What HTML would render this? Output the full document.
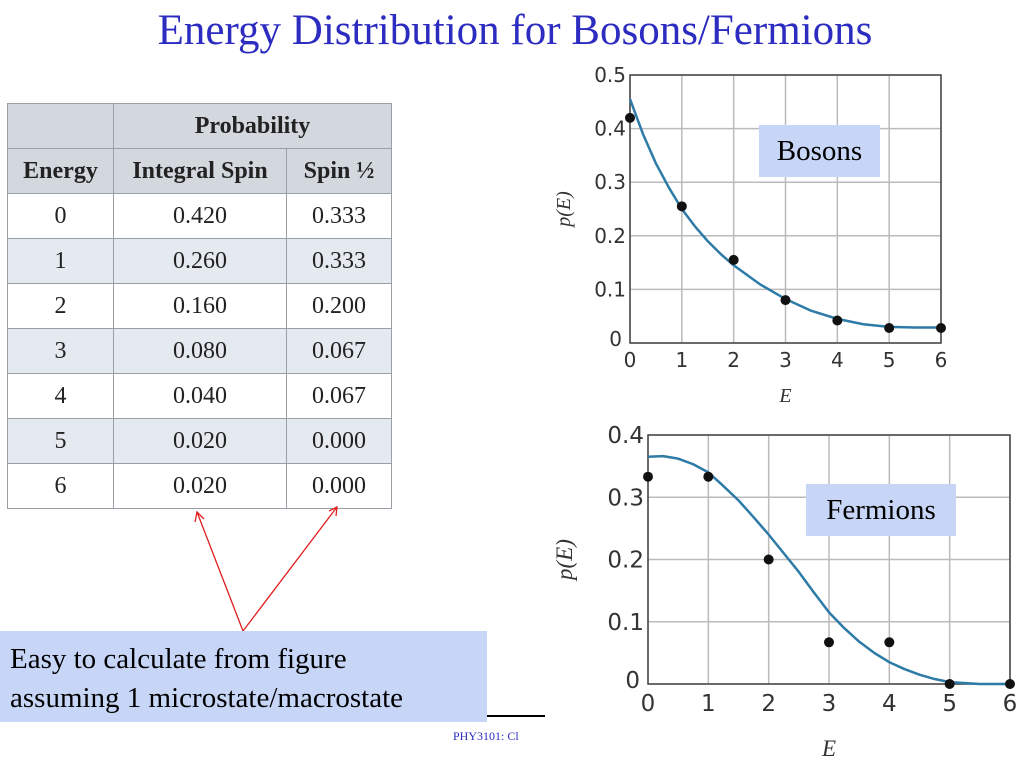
<!DOCTYPE html>
<html><head><meta charset="utf-8"><style>
body{margin:0;width:1024px;height:768px;background:#fff;position:relative;overflow:hidden;font-family:"Liberation Serif",serif}
#title{position:absolute;left:0;top:6px;width:1030px;text-align:center;color:#2c2cc0;font-size:43px}
table{position:absolute;left:7px;top:103px;border-collapse:collapse;font-size:24px;color:#222}
td{border:1.5px solid #9a9ea5;text-align:center;padding:0;height:44px}
.h{background:#d3d7de;font-weight:bold}
.a{background:#e5e9f0}
.lbl{position:absolute;background:#c7d5f7;font-size:29px;color:#000}
</style></head><body>
<div id="title">Energy Distribution for Bosons/Fermions</div>
<table>
<tr class="h"><td style="width:105px"></td><td colspan="2">Probability</td></tr>
<tr class="h"><td>Energy</td><td style="width:172px">Integral Spin</td><td style="width:104px">Spin ½</td></tr>
<tr><td>0</td><td>0.420</td><td>0.333</td></tr>
<tr class="a"><td>1</td><td>0.260</td><td>0.333</td></tr>
<tr><td>2</td><td>0.160</td><td>0.200</td></tr>
<tr class="a"><td>3</td><td>0.080</td><td>0.067</td></tr>
<tr><td>4</td><td>0.040</td><td>0.067</td></tr>
<tr class="a"><td>5</td><td>0.020</td><td>0.000</td></tr>
<tr><td>6</td><td>0.020</td><td>0.000</td></tr>
</table>
<svg width="1024" height="768" style="position:absolute;left:0;top:0" id="svg">
<line x1="243" y1="631" x2="197" y2="512" stroke="#e02020" stroke-width="1.3"/>
<line x1="243" y1="631" x2="337" y2="507" stroke="#e02020" stroke-width="1.3"/>
<polyline points="195,522 197,512 204,519" fill="none" stroke="#e02020" stroke-width="1.3"/>
<polyline points="329,511 337,507 336,516" fill="none" stroke="#e02020" stroke-width="1.3"/>
<line x1="487" y1="716" x2="545" y2="716" stroke="#000" stroke-width="2"/>
<text x="453" y="740" font-size="12" fill="#2c2cc0" font-family="Liberation Serif">PHY3101: Cl</text>
<g id="boson"></g><g id="fermion"></g>
</svg>
<div class="lbl" style="left:759px;top:125px;width:121px;height:52px;line-height:52px;text-align:center">Bosons</div>
<div class="lbl" style="left:806px;top:484px;width:150px;height:52px;line-height:52px;text-align:center">Fermions</div>
<div class="lbl" style="left:0;top:631px;width:487px;height:91px;padding-left:10px;box-sizing:border-box;line-height:39px;padding-top:9px">Easy to calculate from figure<br>assuming 1 microstate/macrostate</div>
<script>
const xTicks=[0,1,2,3,4,5,6];
const bosonYTicks=[0,0.1,0.2,0.3,0.4,0.5];
const bosonPoints=[0.42,0.255,0.155,0.08,0.042,0.028,0.028];
const bosonCurveE=[0,0.25,0.5,0.75,1,1.25,1.5,1.75,2,2.5,3,3.5,4,4.5,5,5.5,6];
const bosonCurveP=[0.455,0.39,0.335,0.29,0.25,0.218,0.19,0.166,0.145,0.11,0.082,0.06,0.045,0.035,0.03,0.029,0.029];
const fermionYTicks=[0,0.1,0.2,0.3,0.4];
const fermionPoints=[0.333,0.333,0.2,0.067,0.067,0,0];
const fermionCurveE=[0,0.25,0.5,0.75,1,1.25,1.5,1.75,2,2.25,2.5,2.75,3,3.25,3.5,3.75,4,4.25,4.5,4.75,5,5.5,6];
const fermionCurveP=[0.365,0.366,0.362,0.353,0.34,0.318,0.295,0.268,0.24,0.21,0.18,0.147,0.115,0.09,0.068,0.05,0.035,0.024,0.015,0.008,0.003,0,0];
const NS='http://www.w3.org/2000/svg';
function mk(p,t,a){const e=document.createElementNS(NS,t);for(const k in a)e.setAttribute(k,a[k]);p.appendChild(e);return e;}
function draw(g,c,yT,pts,cE,cP,name){
 const xs=v=>c.x0+(c.x1-c.x0)*v/6, ys=v=>c.y0-(c.y0-c.y1)*v/c.ymax;
 xTicks.forEach(t=>{mk(g,'line',{x1:xs(t),x2:xs(t),y1:c.y0,y2:c.y1,stroke:'#bbb','stroke-width':1.5});
  const tx=mk(g,'text',{x:xs(t),y:c.y0+c.fs+4,'font-size':c.fs,'text-anchor':'middle',fill:'#333','font-family':'DejaVu Sans'});tx.textContent=t;
  });
 yT.forEach(t=>{mk(g,'line',{x1:c.x0,x2:c.x1,y1:ys(t),y2:ys(t),stroke:'#bbb','stroke-width':1.5});
  const tx=mk(g,'text',{x:c.x0-(t===0?8:4),y:ys(t)+c.fs*0.35-(t===0?4:0),'font-size':c.fs,'text-anchor':'end',fill:'#333','font-family':'DejaVu Sans'});tx.textContent=t;
  });
 mk(g,'rect',{x:c.x0,y:c.y1,width:c.x1-c.x0,height:c.y0-c.y1,fill:'none',stroke:'#444','stroke-width':1.5});
 const path=mk(g,'path',{d:cE.map((e,i)=>(i?'L':'M')+xs(e)+','+ys(cP[i])).join(''),fill:'none',stroke:'#2d7ba6','stroke-width':2.5,'stroke-linejoin':'round'});
 
 pts.forEach((v,i)=>{const d=mk(g,'circle',{cx:xs(i),cy:ys(v),r:5,fill:'#111'});
  });
 const xl=mk(g,'text',{x:(c.x0+c.x1)/2,y:c.xly,'font-size':c.fs,'text-anchor':'middle','font-style':'italic',fill:'#333'});xl.textContent='E';
 
 const yl=mk(g,'text',{x:0,y:0,'font-size':c.fs,'text-anchor':'middle','font-style':'italic',fill:'#333',transform:`translate(${c.ylx},${(c.y0+c.y1)/2}) rotate(-90)`});yl.textContent='p(E)';
 
}
const gb=document.getElementById('boson');

draw(gb,{x0:630,x1:941,y0:343,y1:75,ymax:0.5,fs:20,xly:402,ylx:570},bosonYTicks,bosonPoints,bosonCurveE,bosonCurveP,'boson');
const gf=document.getElementById('fermion');

draw(gf,{x0:648,x1:1010,y0:684,y1:435,ymax:0.4,fs:23,xly:756,ylx:572},fermionYTicks,fermionPoints,fermionCurveE,fermionCurveP,'fermion');
</script>
</body></html>
